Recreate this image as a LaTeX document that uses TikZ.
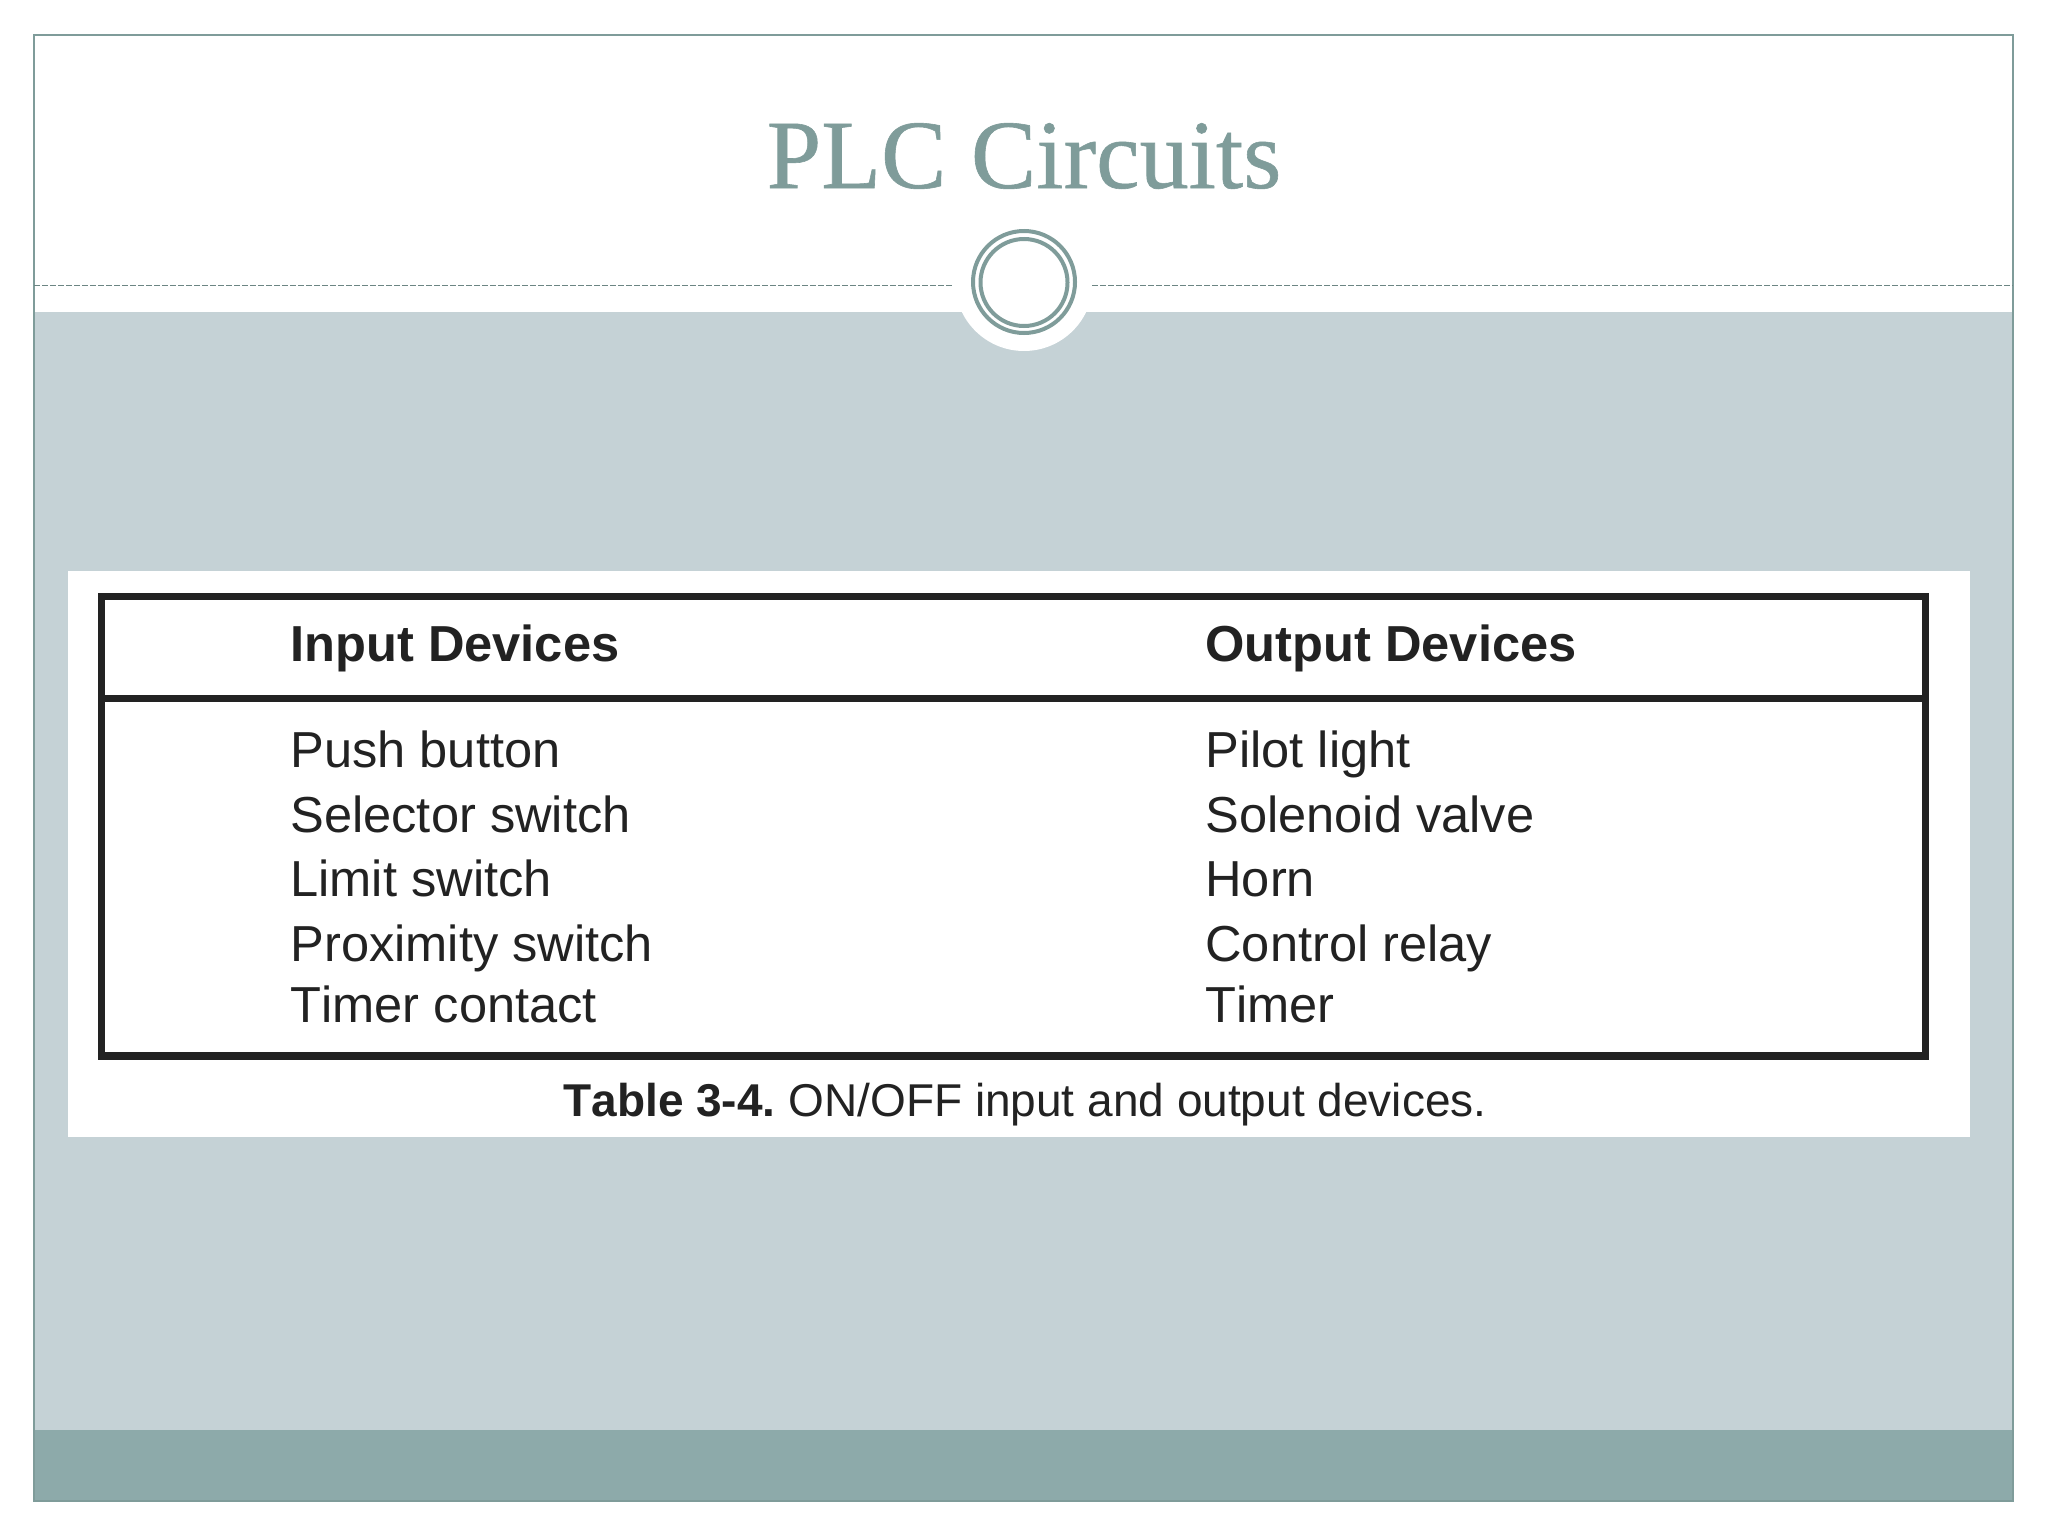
\documentclass[tikz,border=0pt]{standalone}
\usepackage{fontspec}
\setmainfont[Kerning=Off]{Liberation Sans}
\newfontfamily\titlefont[FakeBold=0.6]{Liberation Serif}
\definecolor{bodybg}{HTML}{C5D2D6}
\definecolor{footbg}{HTML}{8DAAAA}
\definecolor{accent}{HTML}{7F9C9A}
\definecolor{ink}{HTML}{222222}
\newcommand{\tabsize}{\fontsize{25.3}{30}\selectfont}
\frenchspacing
\tikzset{
  celltext/.style={anchor=base west,inner sep=0pt,text=ink,font=\tabsize},
  headtext/.style={anchor=base west,inner sep=0pt,text=ink,font=\tabsize\bfseries},
  ring/.style={draw=accent,line width=2pt,fill=none},
  rulerline/.style={draw=accent!85!black,line width=0.6pt,dash pattern=on 3pt off 1pt},
}
\begin{document}
\begin{tikzpicture}[x=0.5pt,y=-0.5pt]
\useasboundingbox (0,0) rectangle (2048,1536);
\fill[white] (0,0) rectangle (2048,1536);
% slide bands
\fill[bodybg] (34,312) rectangle (2013,1430);
\fill[footbg] (34,1430) rectangle (2013,1501);
\draw[accent,line width=0.8pt] (34,35) rectangle (2013,1501);
% title ornament
\fill[white] (1024,282) circle[radius=69];
\draw[rulerline] (34,285.5) -- (954,285.5);
\draw[rulerline] (1092,285.5) -- (2013,285.5);
\draw[ring] (1024,282) circle[radius=51];
\draw[ring] (1024,282.5) circle[radius=43.5];
\node[anchor=base,inner sep=0pt,text=accent,font=\titlefont\fontsize{49}{58}\selectfont] (title) at (1024,188) {PLC Circuits};
% table panel
\fill[white] (67.5,571) rectangle (1970,1137);
\draw[ink,line width=3.7pt] (101.5,596.5) rectangle (1925.5,1056);
\draw[ink,line width=3.7pt] (101.5,698.5) -- (1925.5,698.5);
\node[headtext] (h1) at (290,661) {Input Devices};
\node[headtext] (h2) at (1205,661) {Output Devices};
\node[celltext] (a1) at (290,767) {Push button};
\node[celltext] (a2) at (290,832) {Selector switch};
\node[celltext] (a3) at (290,896) {Limit switch};
\node[celltext] (a4) at (290,961) {Proximity switch};
\node[celltext] (a5) at (290,1022) {Timer contact};
\node[celltext] (b1) at (1205,767) {Pilot light};
\node[celltext] (b2) at (1205,832) {Solenoid valve};
\node[celltext] (b3) at (1205,896) {Horn};
\node[celltext] (b4) at (1205,961) {Control relay};
\node[celltext] (b5) at (1205,1022) {Timer};
\node[anchor=base,inner sep=0pt,text=ink,font=\fontsize{23}{27}\selectfont] (cap) at (1025,1116) {\textbf{Table 3-4.} ON/OFF input and output devices.};
\end{tikzpicture}
\end{document}
